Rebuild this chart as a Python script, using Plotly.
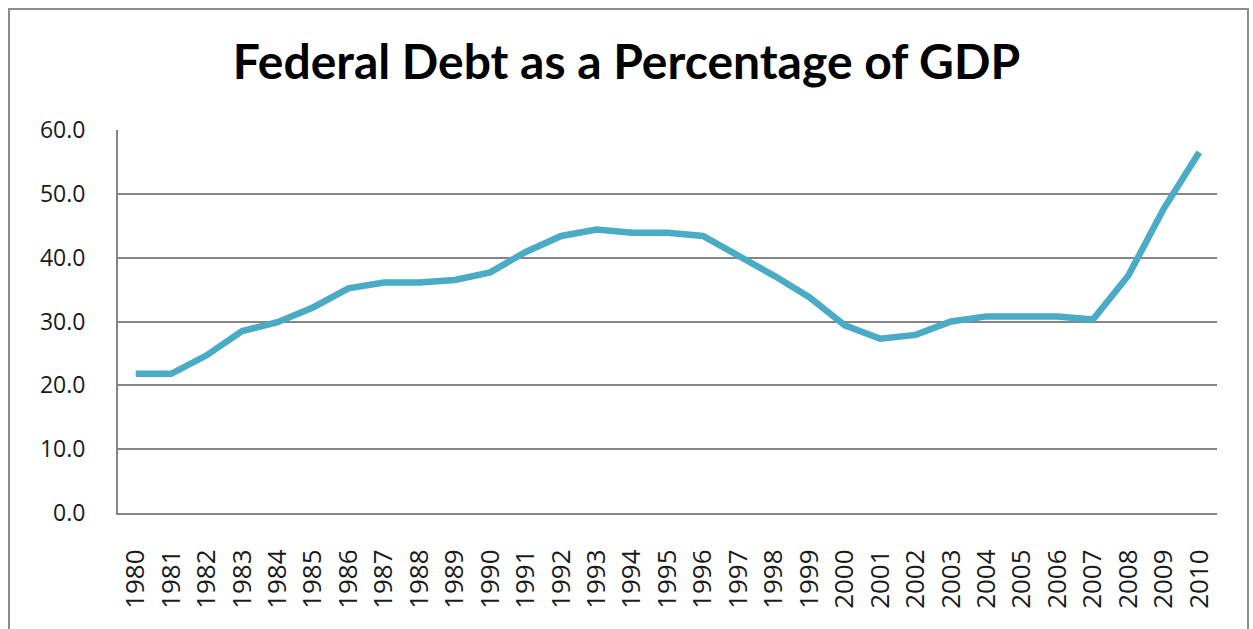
import plotly.graph_objects as go

years = [str(y) for y in range(1980, 2011)]
debt_pct = [21.8, 21.8, 24.7, 28.5, 29.9, 32.2, 35.2, 36.1, 36.1, 36.5,
            37.7, 40.9, 43.4, 44.4, 43.9, 43.9, 43.4, 40.4, 37.2, 33.8,
            29.4, 27.3, 27.9, 30.0, 30.8, 30.8, 30.8, 30.3, 37.2, 47.7, 56.5]
y_ticks = [0, 10, 20, 30, 40, 50, 60]
y_tick_text = ["0.0", "10.0", "20.0", "30.0", "40.0", "50.0", "60.0"]
title_text = "Federal Debt as a Percentage of GDP"

L, R, T, B = 118, 36, 130, 116
W, H = 1253, 629
pw, ph = W - L - R, H - T - B

def px_x(px):
    return (px - L) / pw

def px_y(py):
    return (H - B - py) / ph

fig = go.Figure()
fig.add_trace(go.Scatter(
    x=years, y=debt_pct, mode="lines",
    line=dict(color="#4AABC6", width=6.5),
    showlegend=False, hoverinfo="x+y",
))

fig.update_layout(
    width=W, height=H,
    margin=dict(l=L, r=R, t=T, b=B, pad=0),
    paper_bgcolor="white", plot_bgcolor="white",
    font=dict(family="Open Sans, Arial, sans-serif", color="#1a1a1a"),
    title=dict(text="<b>" + title_text + "</b>",
               font=dict(family="Lato, Open Sans, sans-serif", size=48, color="black"),
               x=0.5, xref="container", xanchor="center",
               y=1 - 62 / H, yref="container", yanchor="middle"),
    xaxis=dict(type="category", range=[-0.5, 30.5], showgrid=False,
               showline=True, linecolor="#858585", linewidth=2,
               ticks="", tickangle=-90, tickfont=dict(size=26, color="#1a1a1a"),
               ticklabelstandoff=24, fixedrange=True, automargin=False),
    yaxis=dict(range=[0, 60], tickvals=y_ticks, ticktext=y_tick_text,
               showgrid=True, gridcolor="#858585", gridwidth=2,
               showline=True, linecolor="#858585", linewidth=2,
               zeroline=False, ticks="", tickfont=dict(size=23, color="#1a1a1a"),
               ticklabelstandoff=26, fixedrange=True, automargin=False),
    shapes=[dict(type="rect", xref="paper", yref="paper",
                 x0=px_x(9), x1=px_x(1248), y0=px_y(660), y1=px_y(9),
                 line=dict(color="#8c8c8c", width=2), fillcolor="rgba(0,0,0,0)",
                 layer="below")],
)

fig.write_html(
    "out.html",
    config={"displayModeBar": False},
    post_script="document.body.style.margin='0';document.body.style.overflow='hidden';",
)
